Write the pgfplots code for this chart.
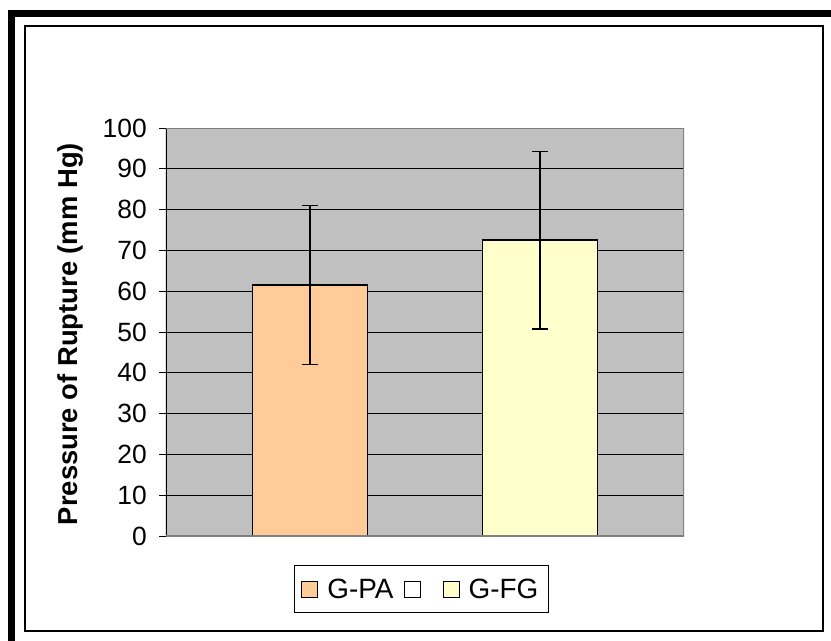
\documentclass[border=0pt]{standalone}
\usepackage{pgfplots}
\pgfplotsset{compat=1.18}
\usepackage{fontspec}
\setmainfont{Liberation Sans}
\definecolor{plotgray}{HTML}{C0C0C0}
\definecolor{edgegray}{HTML}{808080}
\definecolor{gpa}{HTML}{FFCC99}
\definecolor{gfg}{HTML}{FFFFCC}
\begin{document}
\begin{tikzpicture}
\path[use as bounding box] (-166bp,-105bp) rectangle (665bp,536bp);
% frame around the chart
\fill[black] (-158bp,-105bp) rectangle (-151bp,526bp);
\fill[black] (-158bp,519bp) rectangle (665bp,526bp);
\draw[black, line width=1.2bp] (-141bp,-95bp) rectangle (657bp,510bp);
\begin{axis}[
    scale only axis,
    width=518bp, height=408bp,
    xmin=0, xmax=4.5,
    ymin=0, ymax=100,
    ytick={0,10,...,100},
    xtick=\empty,
    ytick pos=left,
    axis background/.style={fill=plotgray},
    axis line style={draw=none},
    ymajorgrids,
    grid style={black, line width=0.9bp},
    tick align=outside,
    major tick length=7bp,
    ytick style={black, line width=0.9bp},
    /pgf/number format/assume math mode=true,
    yticklabel style={font=\fontsize{26.5}{30}\selectfont, inner sep=0pt, xshift=-12bp},
    ylabel={\textbf{Pressure of Rupture (mm Hg)}},
    ylabel style={font=\fontsize{27.5}{32}\selectfont, at={(axis description cs:-0.185,0.495)}, anchor=center},
    legend columns=3,
    legend cell align=left,
    legend image code/.code={\draw[#1, line width=1bp] (0bp,-8bp) rectangle (16bp,8bp);},
    legend style={at={(0.493,-0.131)}, anchor=center, draw=black, line width=1bp,
        fill=white, font=\fontsize{28}{30}\selectfont,
        inner xsep=7bp, inner ysep=10bp,
        nodes={inner sep=3bp},
        /tikz/every odd column/.append style={column sep=6bp},
        /tikz/every even column/.append style={column sep=7bp}},
]
\addplot[ybar, bar width=1, fill=gpa, draw=black, line width=1.5bp,
    error bars/.cd, y dir=both, y explicit,
    error bar style={line width=1.5bp, black},
    error mark options={line width=1.5bp, mark size=8bp, black, rotate=90}]
    coordinates {(1.25,61.5) +- (0,19.5)};
\addlegendentry{G-PA}
\addlegendimage{fill=white, draw=black}
\addlegendentry{\hspace*{3bp}}
\addplot[ybar, bar width=1, fill=gfg, draw=black, line width=1.5bp,
    error bars/.cd, y dir=both, y explicit,
    error bar style={line width=1.5bp, black},
    error mark options={line width=1.5bp, mark size=8bp, black, rotate=90}]
    coordinates {(3.25,72.5) +- (0,21.8)};
\addlegendentry{G-FG}
\draw[black, line width=1.2bp] (rel axis cs:0,0) -- (rel axis cs:0,1);
\draw[edgegray, line width=0.8bp] (rel axis cs:0,1) -- (rel axis cs:1,1);
\draw[edgegray, line width=2bp] (rel axis cs:0,0) -- (rel axis cs:1,0) -- (rel axis cs:1,1);
\end{axis}
\end{tikzpicture}
\end{document}
